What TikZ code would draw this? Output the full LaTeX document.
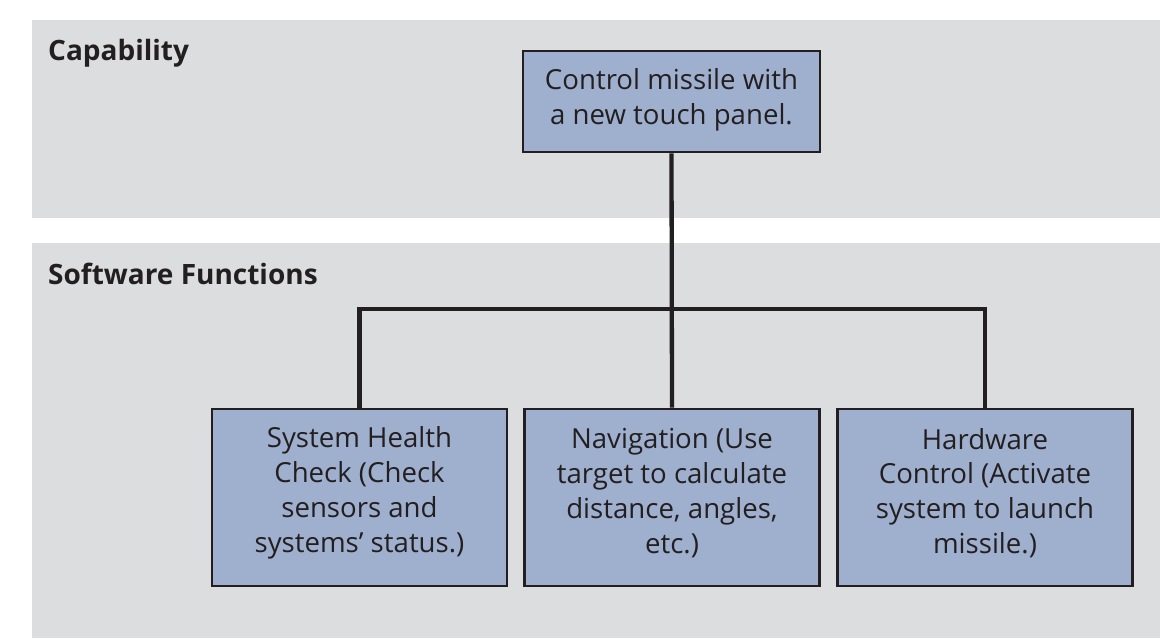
\documentclass[tikz,border=0pt]{standalone}
\usepackage{fontspec}
\setmainfont{Open Sans}
\definecolor{panelgray}{HTML}{DCDDDF}
\definecolor{boxblue}{HTML}{9FAFCE}
\definecolor{ink}{HTML}{231F20}
\begin{document}
\begin{tikzpicture}[x=1pt,y=-1pt,
  panel/.style={fill=panelgray},
  head/.style={anchor=base west, inner sep=0pt, text=ink, font=\fontsize{28}{34}\selectfont\bfseries},
  box/.style={draw=ink, line width=2.7pt, fill=boxblue, inner sep=0pt},
  boxtext/.style={text=ink, align=center, font=\fontsize{27.6}{34.8}\selectfont, inner sep=0pt},
  conn/.style={draw=ink, line width=4.3pt}]
\useasboundingbox (0,0) rectangle (1160,638);
\fill[panel] (32,20) rectangle (1160,218);
\fill[panel] (32,243) rectangle (1160,638);
\node[head] (caplabel) at (48,60) {Capability};
\node[head] (swlabel) at (48,284) {Software Functions};
\node[box, minimum width=297, minimum height=101] (top) at (671.5,101.5) {};
\node[box, minimum width=295, minimum height=177] (sys) at (359.5,497.5) {};
\node[box, minimum width=295, minimum height=177] (nav) at (672,497.5) {};
\node[box, minimum width=295, minimum height=177] (hw) at (985,497.5) {};
\node[boxtext] (toptext) at ([yshift=2pt]top.center) {Control missile with\\a new touch panel.};
\node[boxtext] (systext) at ([yshift=4.5pt]sys.center) {System Health\\Check (Check\\sensors and\\systems’ status.)};
\node[boxtext] (navtext) at ([yshift=4.5pt]nav.center) {Navigation (Use\\target to calculate\\distance, angles,\\etc.)};
\node[boxtext] (hwtext) at ([yshift=4.5pt]hw.center) {Hardware\\Control (Activate\\system to launch\\missile.)};
\draw[conn] (top.south) -- (nav.north);
\draw[conn] (sys.north) -- ++(0,-99) -| (hw.north);
\end{tikzpicture}
\end{document}
